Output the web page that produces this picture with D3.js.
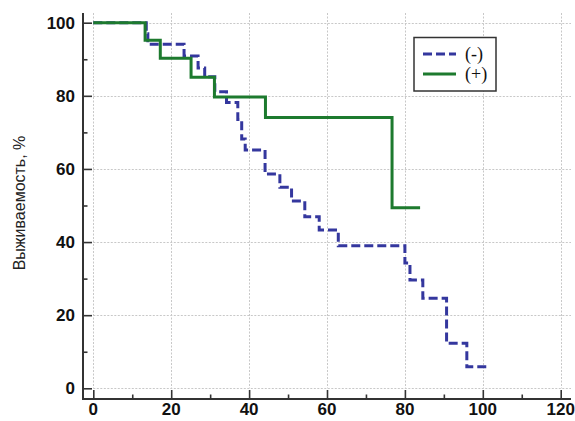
<!DOCTYPE html>
<html><head><meta charset="utf-8">
<script src="https://cdn.jsdelivr.net/npm/d3@7"></script>
<style>body{margin:0;background:#fff}svg{display:block}</style>
</head><body>
<svg id="c" width="575" height="421"></svg>
<script>
// Kaplan–Meier step data
const negTimes = [0, 13.6, 14.0, 23.3, 26.9, 28.6, 31.2, 34.2, 37.1, 38.1, 39.0, 44.1, 47.9, 50.9, 54.3, 58.0, 62.9, 80.0, 81.3, 84.6, 90.7, 95.9, 101.8];
const negSurv  = [100, 97.0, 94.1, 90.9, 87.6, 85.2, 81.1, 78.2, 73.5, 68.2, 65.2, 58.6, 55.0, 51.2, 46.9, 43.3, 39.0, 34.3, 29.6, 24.6, 12.3, 5.9, 5.9];
const posTimes = [0, 13.3, 17.2, 25.1, 31.1, 44.2, 76.7, 83.9];
const posSurv  = [100, 95.2, 90.3, 85.1, 79.7, 74.1, 49.4, 49.4];
const xTicks = [0, 20, 40, 60, 80, 100, 120];
const yTicks = [0, 20, 40, 60, 80, 100];
const seriesNames = ["(-)", "(+)"];
const yTitle = "Выживаемость, %";

const svg = d3.select("#c");
const x = d3.scaleLinear().domain([0, 120]).range([93.3, 560.7]);
const y = d3.scaleLinear().domain([0, 100]).range([388.3, 22.7]);
const gridRight = 571, gridTop = 13;
const axisX = 83, axisY = 399;

// grid
const grid = svg.append("g").attr("stroke", "#c8c8c8").attr("stroke-width", 1).attr("stroke-dasharray", "2,1.5");
grid.selectAll(".v").data(xTicks).join("line")
  .attr("x1", d => Math.round(x(d)) + 0.5).attr("x2", d => Math.round(x(d)) + 0.5)
  .attr("y1", gridTop).attr("y2", y(0));
grid.selectAll(".h").data(yTicks).join("line")
  .attr("y1", d => Math.round(y(d)) + 0.5).attr("y2", d => Math.round(y(d)) + 0.5)
  .attr("x1", x(0)).attr("x2", gridRight);

// axes (detached, ticks pointing inward)
const axCol = "#333";
const xAx = d3.axisTop(x).tickValues(d3.range(0, 121, 10)).tickSize(0).tickFormat("");
const gx = svg.append("g").attr("transform", `translate(0,${axisY})`);
gx.append("line").attr("x1", axisX).attr("x2", gridRight).attr("y1", 0).attr("y2", 0)
  .attr("stroke", axCol).attr("stroke-width", 2);
gx.call(xAx).select(".domain").remove();
gx.selectAll(".tick line").attr("y2", d => d % 20 === 0 ? -9 : -4.5).attr("stroke", axCol).attr("stroke-width", 1.6);
svg.selectAll(".xl").data(xTicks).join("text")
  .attr("x", d => x(d)).attr("y", 415).attr("text-anchor", "middle")
  .attr("font-family", "Liberation Sans, Arial, sans-serif").attr("font-size", 17).attr("font-weight", "bold")
  .attr("fill", "#111").text(d => d);

const yAx = d3.axisRight(y).tickValues(d3.range(0, 101, 10)).tickSize(0).tickFormat("");
const gy = svg.append("g").attr("transform", `translate(${axisX},0)`);
gy.append("line").attr("x1", 0).attr("x2", 0).attr("y1", gridTop).attr("y2", axisY + 1)
  .attr("stroke", axCol).attr("stroke-width", 2);
gy.call(yAx).select(".domain").remove();
gy.selectAll(".tick line").attr("x2", d => d % 20 === 0 ? 9 : 4.5).attr("stroke", axCol).attr("stroke-width", 1.6);
svg.selectAll(".yl").data(yTicks).join("text")
  .attr("x", 75).attr("y", d => y(d) + 6).attr("text-anchor", "end")
  .attr("font-family", "Liberation Sans, Arial, sans-serif").attr("font-size", 17).attr("font-weight", "bold")
  .attr("fill", "#111").text(d => d);

// y title
svg.append("text").attr("transform", "translate(25,203) rotate(-90)")
  .attr("text-anchor", "middle").attr("font-family", "Liberation Sans, Arial, sans-serif")
  .attr("font-size", 16).attr("fill", "#222").text(yTitle);

// curves
const line = d3.line().x(d => x(d[0])).y(d => y(d[1])).curve(d3.curveStepAfter);
const negData = negTimes.map((t, i) => [t, negSurv[i]]);
const posData = posTimes.map((t, i) => [t, posSurv[i]]);
const blue = "#34379e", green = "#1d7a2e";
svg.append("path").attr("d", line(negData)).attr("fill", "none").attr("stroke", blue)
  .attr("stroke-width", 3).attr("stroke-dasharray", "9,4");
svg.append("path").attr("d", line(posData)).attr("fill", "none").attr("stroke", green)
  .attr("stroke-width", 3);

// legend
const lg = svg.append("g");
lg.append("rect").attr("x", 414).attr("y", 37.5).attr("width", 82).attr("height", 53.5)
  .attr("fill", "#fff").attr("stroke", "#333").attr("stroke-width", 1.5);
const legItems = [{name: seriesNames[0], col: blue, dash: "9,4"}, {name: seriesNames[1], col: green, dash: null}];
legItems.forEach((it, i) => {
  const yy = 54 + i * 20;
  lg.append("line").attr("x1", 423).attr("x2", 456).attr("y1", yy).attr("y2", yy)
    .attr("stroke", it.col).attr("stroke-width", 3).attr("stroke-dasharray", it.dash);
  lg.append("text").attr("x", 465).attr("y", yy + 6).attr("font-family", "Liberation Serif, Times New Roman, serif")
    .attr("font-size", 18).attr("fill", "#111").text(it.name);
});
</script>
</body></html>
